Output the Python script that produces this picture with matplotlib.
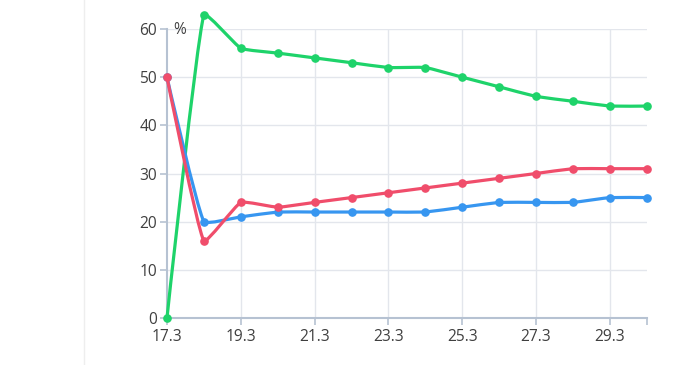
import matplotlib
matplotlib.use("Agg")
import matplotlib.pyplot as plt
import numpy as np
from matplotlib.path import Path
from matplotlib.patches import PathPatch
from matplotlib.lines import Line2D

# ---- data ----
x_values = [17.3, 18.3, 19.3, 20.3, 21.3, 22.3, 23.3, 24.3, 25.3, 26.3, 27.3, 28.3, 29.3, 30.3]
green = [0, 63, 56, 55, 54, 53, 52, 52, 50, 48, 46, 45, 44, 44]
blue = [50, 20, 21, 22, 22, 22, 22, 22, 23, 24, 24, 24, 25, 25]
red = [50, 16, 24, 23, 24, 25, 26, 27, 28, 29, 30, 31, 31, 31]
x_ticks = [17.3, 19.3, 21.3, 23.3, 25.3, 27.3, 29.3, 30.3]
x_tick_labels = ["17.3", "19.3", "21.3", "23.3", "25.3", "27.3", "29.3", ""]
y_ticks = [0, 10, 20, 30, 40, 50, 60]
y_name = "%"

colors = {"green": "#1ed36a", "blue": "#3796f0", "red": "#f04d6b"}

plt.rcParams['font.family'] = ['Open Sans', 'DejaVu Sans']

W, H = 696, 365
fig = plt.figure(figsize=(W / 100, H / 100), dpi=100)
left, right, top, bottom = 167, 646.7, 29, 318
ax = fig.add_axes([left / W, 1 - bottom / H, (right - left) / W, (bottom - top) / H])
ax.set_xlim(17.3, 30.3)
ax.set_ylim(0, 60)

axis_col = "#b6c2d2"
grid_col = "#e3e6ec"
text_col = "#3f3f3f"
fs = 11.2

for s in ["top", "right"]:
    ax.spines[s].set_visible(False)
for s in ["left", "bottom"]:
    ax.spines[s].set_color(axis_col)
    ax.spines[s].set_linewidth(1.5)

ax.set_xticks(x_ticks)
ax.set_xticklabels(x_tick_labels)
ax.set_yticks(y_ticks)
ax.tick_params(axis="both", colors=axis_col, length=5, width=1.2, labelcolor=text_col,
               labelsize=fs)
ax.tick_params(axis="x", pad=3.2)
ax.tick_params(axis="y", pad=2)

for yv in y_ticks[1:]:
    ax.axhline(yv, color=grid_col, lw=1, zorder=0)
for xv in x_ticks[1:-1]:
    ax.axvline(xv, color=grid_col, lw=1, zorder=0)

ax.text(173 / W, 1 - 30 / H, y_name, transform=fig.transFigure, ha="left", va="center",
        fontsize=fs, color=text_col)

fig.canvas.draw()


def smooth_path(xs, ys, smooth=0.12):
    pts = ax.transData.transform(np.column_stack([xs, ys]))
    n = len(pts)
    verts = [tuple(pts[0])]
    codes = [Path.MOVETO]
    cp0 = pts[0].copy()
    prev = pts[0]
    for k in range(1, n):
        x, y = pts[k]
        if k == n - 1:
            vx = vy = 0.0
            ratio = 0.5
            nxt_cp = np.array([x, y])
        else:
            nx, ny = pts[k + 1]
            vx, vy = nx - prev[0], ny - prev[1]
            lp = np.hypot(x - prev[0], y - prev[1])
            ln = np.hypot(nx - x, ny - y)
            ratio = ln / (ln + lp)
            nxt_cp = np.array([x + vx * smooth * ratio, y + vy * smooth * ratio])
        cp1 = np.array([x - vx * smooth * (1 - ratio), y - vy * smooth * (1 - ratio)])
        verts += [tuple(cp0), tuple(cp1), (x, y)]
        codes += [Path.CURVE4] * 3
        cp0 = nxt_cp
        prev = pts[k]
    data_verts = ax.transData.inverted().transform(np.array(verts))
    return Path(data_verts, codes)


for name, vals, z in [("green", green, 3), ("blue", blue, 4), ("red", red, 5)]:
    c = colors[name]
    p = smooth_path(x_values, vals)
    ax.add_patch(PathPatch(p, facecolor="none", edgecolor=c, lw=2.3, zorder=z,
                           clip_on=False, capstyle="round", joinstyle="round"))
    ax.plot(x_values, vals, linestyle="none", marker="o", markersize=5.2, color=c,
            zorder=z + 0.5, clip_on=False)

fig.add_artist(Line2D([83.5 / W, 83.5 / W], [0, 1], transform=fig.transFigure,
                      color="#eeeeee", lw=1))

fig.savefig("out.png", dpi=100)
